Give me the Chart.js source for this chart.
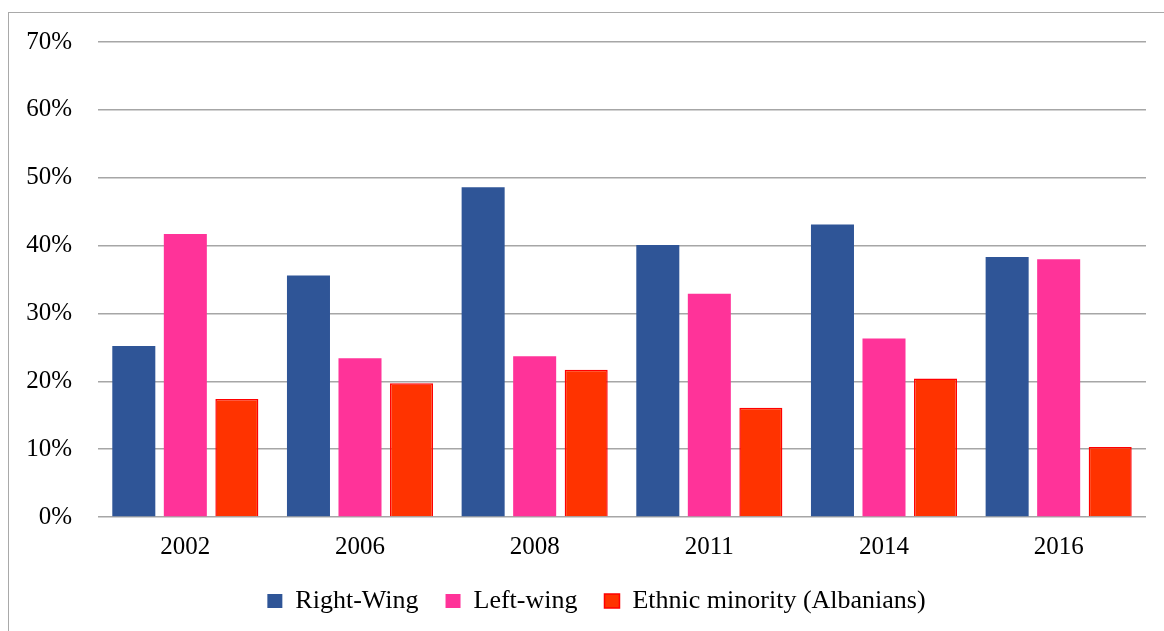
<!DOCTYPE html>
<html>
<head>
<meta charset="utf-8">
<script src="https://cdn.jsdelivr.net/npm/chart.js@4/dist/chart.umd.min.js"></script>
<style>
  html, body { margin: 0; padding: 0; background: #ffffff; overflow: hidden; }
  #wrap { position: relative; width: 1164px; height: 631px; }
  #frame {
    position: absolute; left: 8px; top: 12px; width: 1400px; height: 900px;
    border-left: 1.5px solid #a9a9a9; border-top: 1.5px solid #a9a9a9;
  }
  canvas { position: absolute; left: 0; top: 0; }
</style>
</head>
<body>
<div id="wrap">
  <div id="frame"></div>
  <canvas id="chart" width="1164" height="631"></canvas>
</div>
<script>
// Election years
const years = ['2002', '2006', '2008', '2011', '2014', '2016'];

// Vote share per bloc, in percent
const rightWing = [25.2, 35.6, 48.6, 40.1, 43.1, 38.3];
const leftWing  = [41.7, 23.4, 23.7, 32.9, 26.3, 38.0];
const ethnicAlb = [17.4, 19.7, 21.7, 16.1, 20.4, 10.3];

// Series names
const seriesNames = ['Right-Wing', 'Left-wing', 'Ethnic minority (Albanians)'];

// Value axis ticks
const yTickMin = 0;
const yTickMax = 70;
const yTickStep = 10;

const serif = "'Liberation Serif', 'Times New Roman', serif";

// Nudge the legend row to the right of the canvas centre
const legendShift = {
  id: 'legendShift',
  afterLayout(chart) {
    if (chart.legend) { chart.legend.left += 47; }
  }
};

new Chart(document.getElementById('chart'), {
  type: 'bar',
  data: {
    labels: years,
    datasets: [
      { label: seriesNames[0], data: rightWing, backgroundColor: '#2f5597', borderWidth: 0 },
      { label: seriesNames[1], data: leftWing,  backgroundColor: '#ff3399', borderWidth: 0 },
      { label: seriesNames[2], data: ethnicAlb, backgroundColor: '#ff3300', borderColor: '#ff0000', borderWidth: 1.5, borderSkipped: 'bottom' }
    ]
  },
  plugins: [legendShift],
  options: {
    responsive: false,
    animation: false,
    events: [],
    datasets: { bar: { categoryPercentage: 0.885, barPercentage: 0.835 } },
    layout: { padding: { left: 0, right: 18, top: 42, bottom: 7 } },
    plugins: {
      tooltip: { enabled: false },
      legend: {
        position: 'bottom',
        labels: {
          boxWidth: 15,
          boxHeight: 14,
          padding: 27,
          color: '#000000',
          font: { family: serif, size: 26 }
        }
      }
    },
    scales: {
      x: {
        grid: { display: false },
        border: { display: false },
        ticks: { color: '#000000', padding: 7, font: { family: serif, size: 25 } },
        afterFit: (scale) => { scale.height = 44; }
      },
      y: {
        min: yTickMin,
        max: yTickMax,
        grid: { color: '#a6a6a6', lineWidth: 1.5, drawTicks: false },
        border: { display: false },
        ticks: {
          stepSize: yTickStep,
          padding: 26,
          color: '#000000',
          font: { family: serif, size: 25 },
          callback: (v) => v + '%'
        },
        afterFit: (scale) => { scale.width = 98; }
      }
    }
  }
});
</script>
</body>
</html>
